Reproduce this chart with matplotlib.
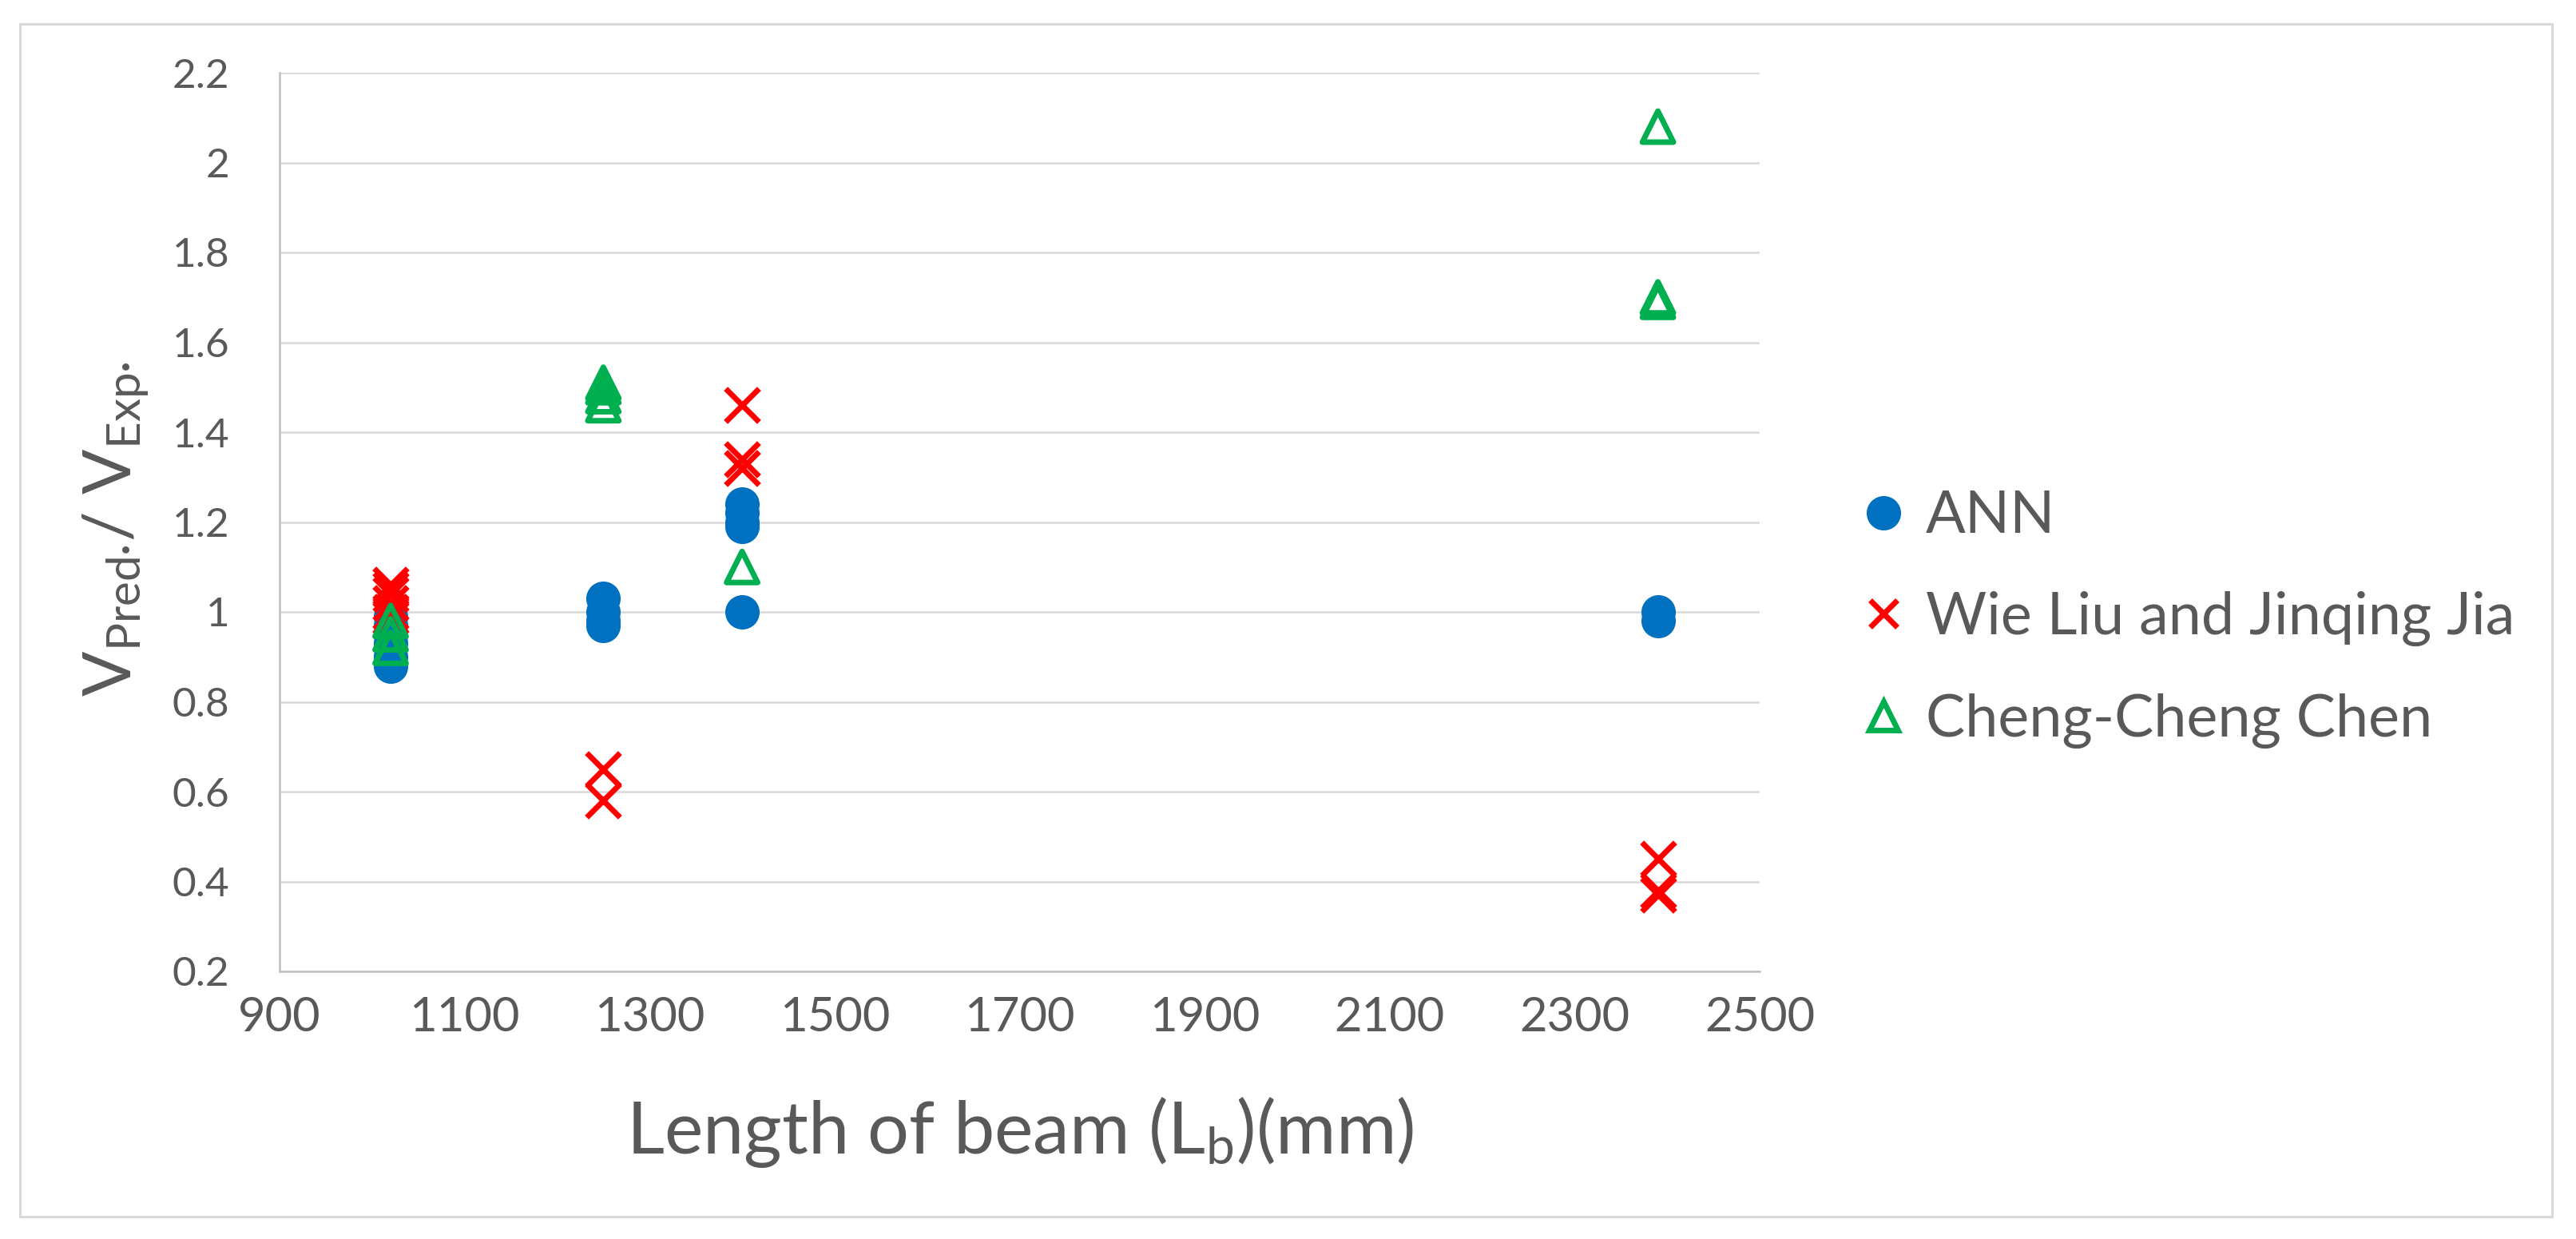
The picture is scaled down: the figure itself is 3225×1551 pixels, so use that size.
import matplotlib
matplotlib.use("Agg")
import matplotlib.pyplot as plt
from matplotlib.lines import Line2D
from matplotlib.patches import Rectangle

# ---- data ----
ann_x = [1020, 1020, 1020, 1020, 1020, 1020, 1250, 1250, 1250, 1250,
         1400, 1400, 1400, 1400, 1400, 2390, 2390]
ann_y = [0.88, 0.90, 0.93, 0.95, 0.97, 0.99, 1.03, 1.00, 0.98, 0.97,
         1.24, 1.22, 1.20, 1.19, 1.00, 1.00, 0.98]

wl_x = [1020, 1020, 1020, 1020, 1020, 1020, 1250, 1250,
        1400, 1400, 1400, 2390, 2390, 2390]
wl_y = [1.06, 1.05, 1.04, 1.02, 1.00, 0.99, 0.65, 0.58,
        1.46, 1.34, 1.32, 0.45, 0.38, 0.37]

cc_x = [1020, 1020, 1020, 1250, 1250, 1250, 1250, 1400, 2390, 2390, 2390]
cc_y = [0.98, 0.95, 0.92, 1.51, 1.50, 1.48, 1.46, 1.10, 2.08, 1.70, 1.69]

series_names = ["ANN", "Wie Liu and Jinqing Jia", "Cheng-Cheng Chen"]
x_ticks = [900, 1100, 1300, 1500, 1700, 1900, 2100, 2300, 2500]
y_ticks = [0.2, 0.4, 0.6, 0.8, 1.0, 1.2, 1.4, 1.6, 1.8, 2.0, 2.2]
y_tick_labels = ["0.2", "0.4", "0.6", "0.8", "1", "1.2", "1.4", "1.6", "1.8", "2", "2.2"]

# ---- style ----
BLUE = "#0070C0"
RED = "#FF0000"
GREEN = "#00B050"
TXT = "#595959"
GRID = "#D9D9D9"
AXIS = "#BFBFBF"

plt.rcParams["font.family"] = ["Lato", "DejaVu Sans"]
plt.rcParams["mathtext.fontset"] = "custom"
plt.rcParams["mathtext.rm"] = "Lato"
plt.rcParams["mathtext.it"] = "Lato"
plt.rcParams["mathtext.bf"] = "Lato"

W, H = 3225, 1551
dpi = 100
fig = plt.figure(figsize=(W / dpi, H / dpi), dpi=dpi)

L, R, T, B = 350, 2203, 91, 1216
ax = fig.add_axes([L / W, 1 - B / H, (R - L) / W, (B - T) / H])

ax.scatter(ann_x, ann_y, s=31 ** 2, marker="o", color=BLUE, linewidths=0, zorder=3)
ax.scatter(wl_x, wl_y, s=30 ** 2, marker="x", color=RED, linewidths=5, zorder=4)
ax.scatter(cc_x, cc_y, s=28 ** 2, marker="^", facecolors="none", edgecolors=GREEN,
           linewidths=5, zorder=5)

ax.set_xlim(900, 2500)
ax.set_ylim(0.2, 2.2)
ax.set_xticks(x_ticks)
ax.set_xticklabels([str(v) for v in x_ticks])
ax.set_yticks(y_ticks)
ax.set_yticklabels(y_tick_labels)
ax.tick_params(axis="both", length=0, colors=TXT)
ax.tick_params(axis="x", labelsize=43, pad=22)
ax.tick_params(axis="y", labelsize=37, pad=45)

ax.grid(axis="y", color=GRID, linewidth=1.8, zorder=0)
ax.set_axisbelow(True)
for s in ["top", "right"]:
    ax.spines[s].set_visible(False)
for s in ["left", "bottom"]:
    ax.spines[s].set_color(AXIS)
    ax.spines[s].set_linewidth(1.8)

ax.set_xlabel("Length of beam (L$_{\\mathregular{b}}$)(mm)", fontsize=66, color=TXT, va="center")
ax.xaxis.set_label_coords(0.5, (B - 1418) / (B - T))
ax.set_ylabel("V$_{\\mathregular{Pred\u00b7}}$/ V$_{\\mathregular{Exp\u00b7}}$", fontsize=60,
              color=TXT, va="center")
ax.yaxis.set_label_coords((145 - L) / (R - L), (B - 662) / (B - T))

handles = [
    Line2D([], [], linestyle="none", marker="o", markersize=31, color=BLUE, markeredgewidth=0),
    Line2D([], [], linestyle="none", marker="x", markersize=24, color=RED, markeredgewidth=5),
    Line2D([], [], linestyle="none", marker="^", markersize=26, markerfacecolor="none",
           markeredgecolor=GREEN, markeredgewidth=5),
]
fig.legend(handles, series_names, loc="center left",
           bbox_to_anchor=(2330 / W, 1 - 775 / H), frameon=False, fontsize=53,
           labelcolor=TXT, handlelength=0.75, handletextpad=0.35, labelspacing=0.8,
           borderpad=0, borderaxespad=0)

fig.patches.append(Rectangle((25 / W, 1 - 1523 / H), (3195 - 25) / W, (1523 - 30) / H,
                             transform=fig.transFigure, fill=False, edgecolor=GRID,
                             linewidth=2.2))

fig.savefig("out.png", dpi=dpi, facecolor="white")
